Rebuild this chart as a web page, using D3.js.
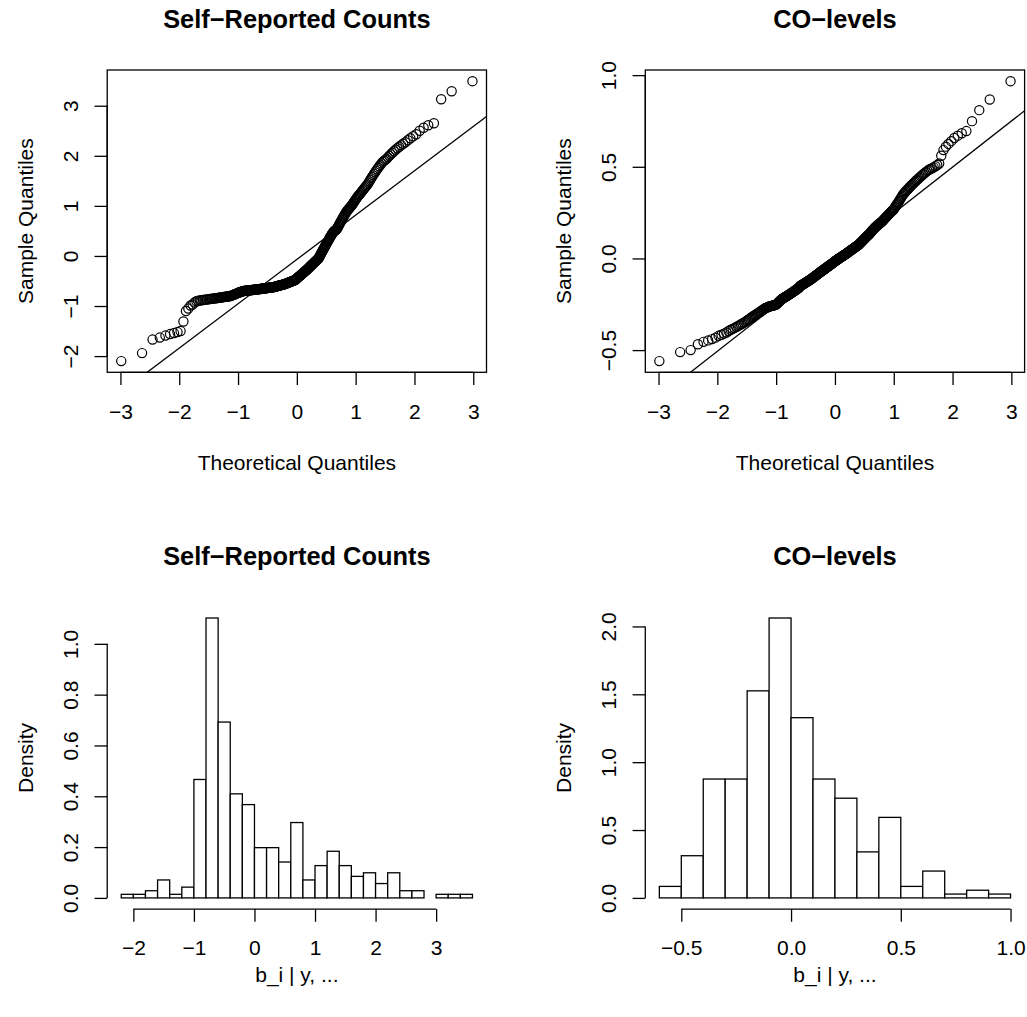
<!DOCTYPE html>
<html><head><meta charset="utf-8">
<script src="https://cdn.jsdelivr.net/npm/d3@7"></script>
<style>
body{margin:0;background:#fff}
svg{display:block}
</style>
</head><body>
<svg id="chart" width="1027" height="1017"></svg>
<script>
// ---------------- DATA ----------------
const panelTitles = ["Self\u2212Reported Counts", "CO\u2212levels"];
const qqXLabel = "Theoretical Quantiles";
const qqYLabel = "Sample Quantiles";
const histXLabel = "b_i | y, ...";
const histYLabel = "Density";

// sorted sample quantiles
const qqSelf = [
-2.10,-1.94,-1.67,-1.63,-1.59,-1.56,-1.54,-1.52,-1.50,-1.31,-1.10,-1.05,-0.99,
-0.97,-0.93,-0.905,-0.895,-0.89,-0.885,-0.88,-0.876,-0.872,-0.868,-0.864,-0.86,-0.857,-0.854,-0.851,-0.848,-0.845,-0.842,-0.839,-0.836,-0.833,-0.83,-0.827,-0.824,-0.821,-0.818,-0.815,-0.812,-0.81,-0.808,-0.806,-0.804,-0.802,
-0.795,-0.789,-0.783,-0.777,-0.771,-0.765,-0.759,-0.753,-0.747,-0.741,-0.735,-0.73,-0.725,-0.72,-0.716,-0.712,-0.708,-0.704,-0.70,
-0.698,-0.696,-0.695,-0.694,-0.692,-0.691,-0.69,-0.688,-0.687,-0.686,-0.684,-0.683,-0.682,-0.68,-0.679,-0.678,-0.676,-0.675,-0.674,-0.672,-0.671,-0.67,-0.668,-0.667,-0.666,-0.664,-0.663,-0.662,-0.66,-0.659,-0.658,-0.656,-0.655,
-0.654,-0.653,-0.651,-0.65,-0.649,-0.647,-0.646,-0.645,-0.643,-0.642,-0.641,-0.639,-0.638,-0.637,-0.635,-0.634,-0.633,-0.631,-0.63,-0.629,-0.627,-0.626,-0.625,-0.623,-0.622,-0.62,
-0.618,-0.615,-0.613,-0.61,-0.608,-0.606,-0.603,-0.601,-0.598,-0.596,-0.594,-0.591,-0.589,-0.586,-0.584,-0.582,-0.579,-0.577,-0.574,-0.572,-0.57,-0.567,-0.565,-0.562,-0.56,
-0.557,-0.554,-0.551,-0.547,-0.544,-0.541,-0.537,-0.534,-0.531,-0.527,-0.524,-0.521,-0.517,-0.514,-0.511,-0.507,-0.504,-0.5,-0.497,-0.494,-0.49,-0.487,-0.484,-0.48,
-0.475,-0.468,-0.46,-0.453,-0.446,-0.438,-0.431,-0.424,-0.416,-0.409,-0.402,-0.394,-0.387,-0.38,-0.372,-0.365,-0.358,-0.351,-0.343,-0.336,-0.329,-0.321,-0.314,-0.307,-0.299,-0.292,-0.285,-0.277,-0.27,
-0.262,-0.253,-0.245,-0.237,-0.228,-0.22,-0.211,-0.203,-0.195,-0.186,-0.178,-0.169,-0.161,-0.153,-0.144,-0.136,-0.127,-0.119,-0.111,-0.102,-0.094,-0.085,-0.077,-0.069,-0.06,-0.052,
-0.04,-0.023,-0.006,0.011,0.028,0.045,0.062,0.079,0.096,0.113,0.13,0.147,0.164,0.181,
0.198,0.215,0.232,0.249,0.266,0.283,0.3,0.317,0.334,0.351,0.368,0.385,0.402,0.419,
0.435,0.45,0.465,0.478,0.49,0.5,0.508,0.515,0.522,0.53,
0.545,0.565,0.585,0.605,0.625,0.645,0.665,0.685,0.705,0.725,0.745,0.765,0.785,0.805,0.825,0.845,0.865,0.885,0.9,0.915,0.93,
0.945,0.96,0.975,0.99,1.005,
1.02,1.04,1.06,1.08,1.1,1.12,1.14,1.16,1.18,
1.2,1.215,1.23,1.25,1.27,1.29,1.31,1.33,1.35,1.37,1.39,1.41,1.43,
1.46,1.49,1.52,1.55,1.58,1.61,1.64,1.67,1.7,
1.73,1.76,1.79,1.82,1.85,1.88,
1.9,1.92,1.94,1.97,2.0,2.03,2.06,
2.09,2.12,2.15,2.18,
2.21,2.24,2.27,2.31,2.35,2.39,2.43,
2.5,2.56,2.61,2.65,
3.13,3.29,3.49
];

const qqCO = [
-0.560,-0.511,-0.500,-0.468,-0.455,-0.447,-0.440,-0.432,-0.422,-0.416,-0.41,-0.404,-0.396,
-0.389,-0.384,-0.379,-0.374,-0.369,-0.364,-0.359,
-0.355,-0.35,-0.346,-0.341,-0.336,-0.332,-0.327,-0.322,-0.318,
-0.314,-0.31,-0.307,-0.303,-0.3,-0.296,-0.292,-0.289,-0.285,-0.282,-0.278,-0.275,
-0.272,-0.27,-0.268,-0.266,-0.264,-0.262,-0.261,-0.26,-0.259,-0.258,-0.257,-0.256,-0.255,-0.254,-0.252,-0.25,
-0.248,-0.244,-0.24,-0.236,-0.232,-0.229,-0.226,-0.223,-0.22,-0.218,-0.216,-0.214,-0.212,-0.21,-0.208,-0.206,-0.204,-0.202,
-0.2,-0.198,-0.196,-0.194,-0.192,-0.19,-0.188,-0.186,-0.184,-0.182,-0.18,-0.178,-0.176,-0.174,-0.172,-0.17,-0.168,-0.166,-0.164,-0.162,-0.16,-0.157,
-0.151,-0.149,-0.148,-0.146,-0.145,-0.143,-0.141,-0.14,-0.138,-0.137,-0.135,-0.133,-0.132,-0.13,-0.128,-0.127,-0.125,-0.124,-0.122,-0.12,-0.119,-0.117,-0.116,-0.114,-0.112,
-0.11,-0.108,-0.106,-0.105,-0.103,-0.101,-0.099,-0.097,-0.096,-0.094,-0.092,-0.09,-0.088,-0.087,-0.085,-0.083,-0.081,-0.079,-0.078,-0.076,-0.074,-0.072,-0.07,-0.069,-0.067,-0.066,-0.064,
-0.062,-0.06,-0.059,-0.057,-0.055,-0.054,-0.052,-0.05,-0.049,-0.047,-0.045,-0.044,-0.042,-0.04,-0.039,-0.037,-0.035,-0.034,-0.032,-0.03,-0.029,-0.027,-0.025,-0.024,-0.022,-0.02,-0.018,-0.016,
-0.014,-0.013,-0.011,-0.01,-0.008,-0.007,-0.005,-0.004,-0.002,0,0.001,0.003,0.004,0.006,0.007,0.009,0.01,0.012,0.013,0.015,0.016,0.018,0.019,0.021,0.022,0.024,0.025,0.027,
0.029,0.031,0.032,0.034,0.036,0.037,0.039,0.041,0.042,0.044,0.046,0.048,0.049,0.051,0.053,0.054,0.056,0.058,0.059,0.061,0.063,0.065,0.066,0.068,0.07,0.071,0.073,
0.075,0.078,0.08,0.083,0.085,0.088,0.09,0.093,0.096,0.098,0.101,0.103,0.106,0.109,0.111,0.114,0.116,0.119,0.122,0.124,0.127,0.129,0.132,0.134,0.137,
0.142,0.145,0.148,0.151,0.154,0.157,0.16,0.163,0.166,0.169,0.172,0.174,0.177,0.18,0.182,0.185,0.188,0.19,0.193,0.195,0.197,0.2,
0.202,0.206,0.21,0.213,0.217,0.22,0.224,0.228,0.231,0.235,0.238,0.242,0.246,0.249,0.253,0.256,0.26,0.263,0.267,
0.272,0.278,0.284,0.29,0.296,0.302,0.308,0.315,0.322,0.329,0.336,0.343,0.35,0.355,0.36,0.366,
0.371,0.376,0.381,0.387,0.392,0.398,0.403,0.408,0.414,0.419,0.425,0.43,
0.436,0.442,0.448,0.454,0.46,0.466,0.472,0.478,0.484,
0.488,0.492,0.497,0.503,0.51,0.518,
0.56,0.591,0.61,0.625,0.64,0.657,0.67,0.683,0.695,0.749,0.809,0.867,0.967
];

// histogram breaks and counts
const histSelfBreaks = [-2.2,-2.0,-1.8,-1.6,-1.4,-1.2,-1.0,-0.8,-0.6,-0.4,-0.2,0,0.2,0.4,0.6,0.8,1.0,1.2,1.4,1.6,1.8,2.0,2.2,2.4,2.6,2.8,3.0,3.2,3.4,3.6];
const histSelfCounts = [1,1,2,5,1,3,33,78,49,29,26,14,14,10,21,5,9,13,9,6,7,4,7,2,2,0,1,1,1];
const histCOBreaks = [-0.6,-0.5,-0.4,-0.3,-0.2,-0.1,0,0.1,0.2,0.3,0.4,0.5,0.6,0.7,0.8,0.9,1.0];
const histCOCounts = [3,11,31,31,54,73,47,31,26,12,21,3,7,1,2,1];

// tick values
const qqXTicks = [-3,-2,-1,0,1,2,3];
const qqSelfYTicks = [-2,-1,0,1,2,3];
const qqCOYTicks = [-0.5,0,0.5,1.0];
const histSelfXTicks = [-2,-1,0,1,2,3];
const histSelfYTicks = [0,0.2,0.4,0.6,0.8,1.0];
const histCOXTicks = [-0.5,0,0.5,1.0];
const histCOYTicks = [0,0.5,1.0,1.5,2.0];

// ---------------- LAYOUT ----------------
const FONT = '"Liberation Sans", Arial, Helvetica, sans-serif';
const FS = 21, FST = 25.4, SW = 1.3, TICK = 12.7;
const PW = 379.3, PH = 302.3;
const colX = [107.2, 645.3];
const rowTop = [70, 606.8];
const xlabOff = [97.3, 73];
const ylabOff = 74;
const PT_R = 4.6;

const svg = d3.select("#chart");
svg.append("rect").attr("width",1027).attr("height",1017).attr("fill","#fff");

// inverse normal CDF (Acklam)
function qnorm(p){
  const a=[-3.969683028665376e+01,2.209460984245205e+02,-2.759285104469687e+02,1.383577518672690e+02,-3.066479806614716e+01,2.506628277459239e+00];
  const b=[-5.447609879822406e+01,1.615858368580409e+02,-1.556989798598866e+02,6.680131188771972e+01,-1.328068155288572e+01];
  const c=[-7.784894002430293e-03,-3.223964580411365e-01,-2.400758277161838e+00,-2.549732539343734e+00,4.374664141464968e+00,2.938163982698783e+00];
  const d=[7.784695709041462e-03,3.224671290700398e-01,2.445134137142996e+00,3.754408661907416e+00];
  const pl=0.02425, ph=1-pl; let q,r;
  if(p<pl){q=Math.sqrt(-2*Math.log(p));return (((((c[0]*q+c[1])*q+c[2])*q+c[3])*q+c[4])*q+c[5])/((((d[0]*q+d[1])*q+d[2])*q+d[3])*q+1);}
  if(p<=ph){q=p-0.5;r=q*q;return (((((a[0]*r+a[1])*r+a[2])*r+a[3])*r+a[4])*r+a[5])*q/(((((b[0]*r+b[1])*r+b[2])*r+b[3])*r+b[4])*r+1);}
  q=Math.sqrt(-2*Math.log(1-p));return -(((((c[0]*q+c[1])*q+c[2])*q+c[3])*q+c[4])*q+c[5])/((((d[0]*q+d[1])*q+d[2])*q+d[3])*q+1);
}
function padDomain(lo,hi){const r=hi-lo;return [lo-0.04*r, hi+0.04*r];}
const fmtFor = dec => d3.format("." + dec + "f");

function bottomAxis(g, scale, ticks, fmt, y){
  const a = g.append("g").attr("transform",`translate(0,${y})`)
    .call(d3.axisBottom(scale).tickValues(ticks).tickFormat(fmt).tickSize(TICK).tickSizeOuter(0));
  a.select(".domain").remove();
  a.append("line").attr("x1",scale(ticks[0])).attr("x2",scale(ticks[ticks.length-1]))
    .attr("y1",0).attr("y2",0).attr("stroke","#000").attr("stroke-width",SW);
  a.attr("font-family",FONT).attr("font-size",FS);
  a.selectAll(".tick line").attr("stroke","#000").attr("stroke-width",SW);
  a.selectAll(".tick text").attr("y",46.3).attr("dy",null).attr("fill","#000");
}
function leftAxis(g, scale, ticks, fmt, x){
  const a = g.append("g").attr("transform",`translate(${x},0)`)
    .call(d3.axisLeft(scale).tickValues(ticks).tickFormat(fmt).tickSize(TICK).tickSizeOuter(0));
  a.select(".domain").remove();
  a.append("line").attr("y1",scale(ticks[0])).attr("y2",scale(ticks[ticks.length-1]))
    .attr("x1",0).attr("x2",0).attr("stroke","#000").attr("stroke-width",SW);
  a.attr("font-family",FONT).attr("font-size",FS);
  a.selectAll(".tick line").attr("stroke","#000").attr("stroke-width",SW);
  a.selectAll(".tick text").attr("x",0).attr("y",0).attr("dy",null)
    .attr("text-anchor","middle").attr("transform","translate(-29.4,0) rotate(-90)").attr("fill","#000");
}
function labels(g, x0, top, row, title, xlab, ylab){
  g.append("text").attr("x",x0+PW/2).attr("y",top-42).attr("text-anchor","middle")
    .attr("font-family",FONT).attr("font-size",FST).attr("font-weight","bold").text(title);
  g.append("text").attr("x",x0+PW/2).attr("y",top+PH+xlabOff[row]).attr("text-anchor","middle")
    .attr("font-family",FONT).attr("font-size",FS).text(xlab);
  g.append("text").attr("transform",`translate(${x0-ylabOff},${top+PH/2}) rotate(-90)`).attr("text-anchor","middle")
    .attr("font-family",FONT).attr("font-size",FS).text(ylab);
}

function qqPanel(idx, data, yTicks, yDec){
  const x0 = colX[idx], top = rowTop[0];
  const g = svg.append("g");
  const s = data.slice().sort(d3.ascending);
  const n = s.length;
  const pts = s.map((v,i)=>({t: qnorm((i+1-0.5)/n), v}));
  const x = d3.scaleLinear().domain(padDomain(...d3.extent(pts,d=>d.t))).range([x0, x0+PW]);
  const y = d3.scaleLinear().domain(padDomain(s[0], s[n-1])).range([top+PH, top]);
  const clipId = "clip"+idx;
  g.append("clipPath").attr("id",clipId).append("rect").attr("x",x0).attr("y",top).attr("width",PW).attr("height",PH);
  g.append("g").selectAll("circle").data(pts).join("circle")
    .attr("cx",d=>x(d.t)).attr("cy",d=>y(d.v)).attr("r",PT_R)
    .attr("fill","none").attr("stroke","#000").attr("stroke-width",1.2);
  // qqline through quartiles
  const q1 = d3.quantileSorted(s,0.25), q3 = d3.quantileSorted(s,0.75);
  const z1 = qnorm(0.25), z3 = qnorm(0.75);
  const slope = (q3-q1)/(z3-z1), icpt = q1 - slope*z1;
  const [dx0, dx1] = x.domain();
  g.append("line").attr("clip-path",`url(#${clipId})`)
    .attr("x1",x(dx0)).attr("y1",y(icpt+slope*dx0)).attr("x2",x(dx1)).attr("y2",y(icpt+slope*dx1))
    .attr("stroke","#000").attr("stroke-width",SW);
  g.append("rect").attr("x",x0).attr("y",top).attr("width",PW).attr("height",PH)
    .attr("fill","none").attr("stroke","#000").attr("stroke-width",SW);
  bottomAxis(g, x, qqXTicks, fmtFor(0), top+PH);
  leftAxis(g, y, yTicks, fmtFor(yDec), x0);
  labels(g, x0, top, 0, panelTitles[idx], qqXLabel, qqYLabel);
}

function histPanel(idx, breaks, counts, xTicks, xDec, yTicks, yDec){
  const x0 = colX[idx], top = rowTop[1];
  const g = svg.append("g");
  const n = d3.sum(counts);
  const bins = counts.map((c,i)=>({x0:breaks[i], x1:breaks[i+1], dens: c/(n*(breaks[i+1]-breaks[i]))}));
  const x = d3.scaleLinear().domain(padDomain(breaks[0], breaks[breaks.length-1])).range([x0, x0+PW]);
  const y = d3.scaleLinear().domain(padDomain(0, d3.max(bins,d=>d.dens))).range([top+PH, top]);
  g.append("g").selectAll("rect").data(bins).join("rect")
    .attr("x",d=>x(d.x0)).attr("width",d=>x(d.x1)-x(d.x0))
    .attr("y",d=>y(d.dens)).attr("height",d=>y(0)-y(d.dens))
    .attr("fill","#fff").attr("stroke","#000").attr("stroke-width",SW);
  bottomAxis(g, x, xTicks, fmtFor(xDec), top+PH);
  leftAxis(g, y, yTicks, fmtFor(yDec), x0);
  labels(g, x0, top, 1, panelTitles[idx], histXLabel, histYLabel);
}

qqPanel(0, qqSelf, qqSelfYTicks, 0);
qqPanel(1, qqCO, qqCOYTicks, 1);
histPanel(0, histSelfBreaks, histSelfCounts, histSelfXTicks, 0, histSelfYTicks, 1);
histPanel(1, histCOBreaks, histCOCounts, histCOXTicks, 1, histCOYTicks, 1);
</script>
</body></html>
